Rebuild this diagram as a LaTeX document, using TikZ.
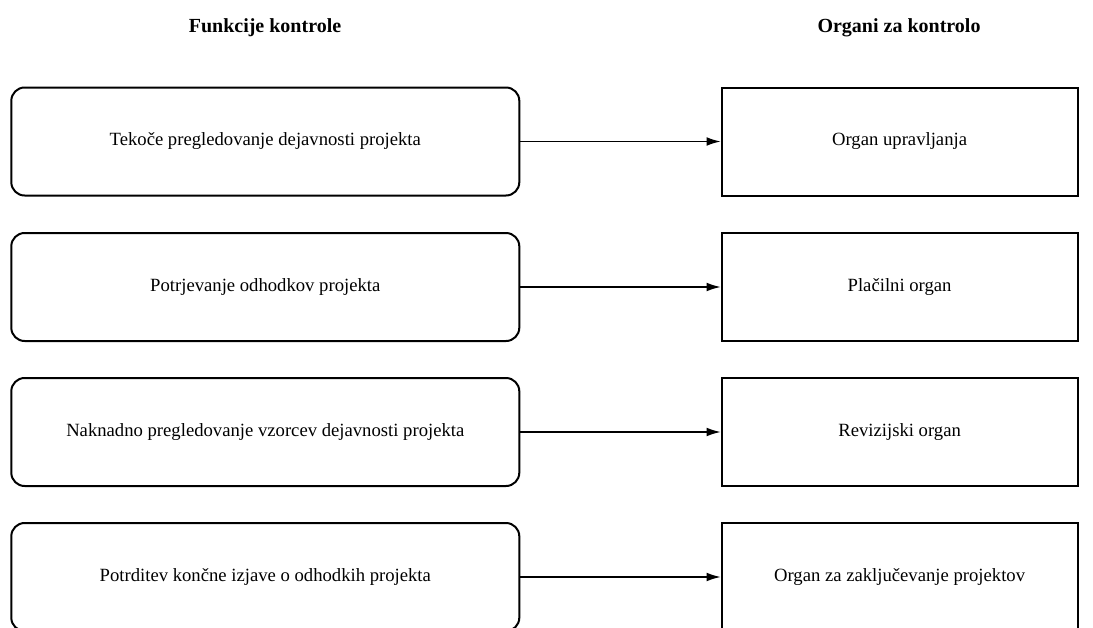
\documentclass[tikz,border=0pt]{standalone}
\usepackage{fontspec}
\setmainfont{Liberation Serif}
\usetikzlibrary{arrows.meta}

\tikzset{
  funkcija/.style={draw, line width=1.5pt, rounded corners=10pt, minimum width=381pt, minimum height=81pt, inner sep=0pt, font=\fontsize{14}{17}\selectfont},
  organ/.style={draw, line width=1.5pt, minimum width=267pt, minimum height=81pt, inner sep=0pt, font=\fontsize{14}{17}\selectfont},
  naslov/.style={font=\bfseries\fontsize{15}{18}\selectfont},
  puscica/.style={line width=0.9pt, -{Latex[length=10.5pt,width=6.5pt]}}
}

\begin{document}
\begin{tikzpicture}[x=0.75pt,y=0.75pt,yscale=-1,xscale=1]
%set diagram size to 1093 x 628
\useasboundingbox (0,0) rectangle (1093,628);
\clip (0,0) rectangle (1093,628);

% Headings
\node [naslov] (naslovF) at (265,28) {Funkcije kontrole};
\node [naslov] (naslovO) at (899,28) {Organi za kontrolo};

% Left column
\node [funkcija] (f1) at (265.3,141.5) {Tekoče pregledovanje dejavnosti projekta};
\node [funkcija] (f2) at (265.3,287) {Potrjevanje odhodkov projekta};
\node [funkcija] (f3) at (265.3,432) {Naknadno pregledovanje vzorcev dejavnosti projekta};
\node [funkcija] (f4) at (265.3,577) {Potrditev končne izjave o odhodkih projekta};

% Right column
\node [organ] (o1) at (899.6,141.5) {Organ upravljanja};
\node [organ] (o2) at (899.6,287) {Plačilni organ};
\node [organ] (o3) at (899.6,432) {Revizijski organ};
\node [organ] (o4) at (899.6,577) {Organ za zaključevanje projektov};

% Arrows
\draw [puscica] (f1) -- (o1);
\draw [puscica] (f2) -- (o2);
\draw [puscica] (f3) -- (o3);
\draw [puscica] (f4) -- (o4);

\end{tikzpicture}
\end{document}
